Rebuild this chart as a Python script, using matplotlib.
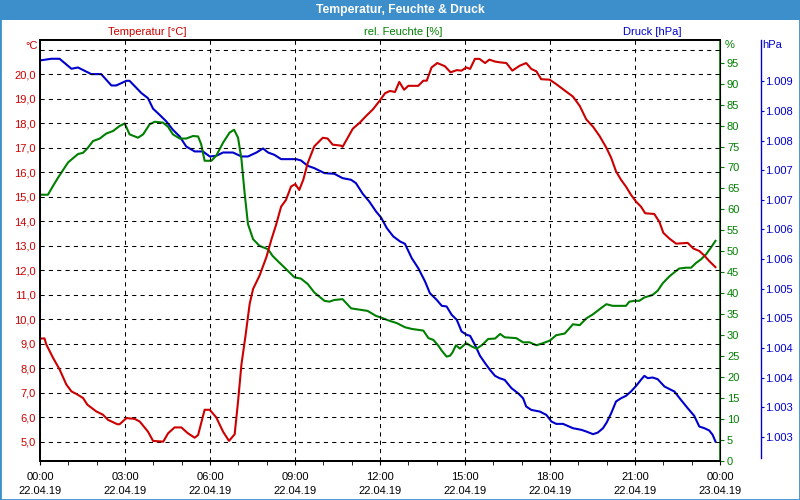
import matplotlib.pyplot as plt
from matplotlib.patches import Rectangle

plt.rcParams['font.family'] = ['Liberation Sans', 'DejaVu Sans']
plt.rcParams['font.size'] = 8

RED = '#cc0000'
GREEN = '#008000'
BLUE = '#0000cc'
BAR = '#3d8fcc'

# Temperatur [°C], Zeit in Stunden ab 22.04.19 00:00
temp_h = [0.0, 0.16, 0.22, 0.46, 0.69, 0.93, 1.11, 1.28, 1.52, 1.67, 1.99, 2.22, 2.40, 2.73, 2.81,
          3.05, 3.34, 3.52, 3.81, 3.99, 4.35, 4.52, 4.75, 4.99, 5.22, 5.46, 5.58, 5.81, 5.99, 6.22,
          6.46, 6.67, 6.87, 6.99, 7.11, 7.26, 7.40, 7.52, 7.75, 7.99, 8.16, 8.33, 8.51, 8.68, 8.86,
          9.01, 9.15, 9.29, 9.45, 9.68, 9.98, 10.15, 10.33, 10.62, 10.68, 10.86, 11.04, 11.28, 11.51,
          11.75, 11.98, 12.18, 12.35, 12.53, 12.68, 12.85, 13.0, 13.35, 13.53, 13.65, 13.82, 14.02,
          14.29, 14.49, 14.71, 14.88, 15.04, 15.18, 15.35, 15.51, 15.71, 15.86, 16.06, 16.22, 16.46,
          16.67, 16.93, 17.16, 17.34, 17.52, 17.69, 17.99, 18.22, 18.46, 18.81, 19.05, 19.28, 19.52,
          19.75, 19.99, 20.16, 20.33, 20.51, 20.68, 20.86, 21.04, 21.21, 21.36, 21.68, 21.86, 22.0,
          22.21, 22.45, 22.86, 23.06, 23.27, 23.44, 23.62, 23.84]
temp_c = [9.21, 9.21, 8.97, 8.42, 7.95, 7.33, 7.05, 6.95, 6.78, 6.51, 6.23, 6.10, 5.89, 5.71, 5.71,
          5.96, 5.93, 5.82, 5.41, 5.03, 5.0, 5.34, 5.58, 5.58, 5.34, 5.16, 5.27, 6.30, 6.30, 5.99,
          5.41, 5.03, 5.30, 6.64, 8.15, 9.38, 10.62, 11.23, 11.78, 12.53, 13.22, 13.84, 14.59, 14.86,
          15.41, 15.51, 15.27, 15.68, 16.37, 17.05, 17.40, 17.37, 17.12, 17.08, 17.03, 17.40, 17.77,
          18.01, 18.29, 18.56, 18.90, 19.22, 19.31, 19.27, 19.68, 19.36, 19.52, 19.52, 19.73, 19.73,
          20.27, 20.45, 20.32, 20.07, 20.16, 20.14, 20.27, 20.21, 20.62, 20.62, 20.45, 20.59, 20.51,
          20.48, 20.45, 20.14, 20.34, 20.45, 20.21, 20.11, 19.79, 19.77, 19.59, 19.38, 19.08, 18.70,
          18.15, 17.85, 17.47, 16.99, 16.58, 16.03, 15.68, 15.41, 15.07, 14.79, 14.59, 14.32, 14.29,
          13.97, 13.52, 13.29, 13.08, 13.11, 12.88, 12.78, 12.60, 12.37, 12.12]

# rel. Feuchte [%]
hum_h = [0.0, 0.28, 0.46, 0.64, 0.99, 1.34, 1.52, 1.69, 1.87, 2.11, 2.34, 2.58, 2.81, 2.99, 3.16,
         3.46, 3.64, 3.87, 4.05, 4.34, 4.52, 4.69, 4.93, 5.16, 5.40, 5.58, 5.69, 5.81, 6.05, 6.22,
         6.46, 6.69, 6.85, 6.99, 7.11, 7.22, 7.34, 7.52, 7.75, 8.05, 8.21, 8.45, 8.68, 8.98, 9.21,
         9.45, 9.68, 10.04, 10.21, 10.39, 10.68, 10.98, 11.27, 11.56, 11.86, 12.04, 12.35, 12.59,
         12.88, 13.12, 13.53, 13.71, 13.88, 14.06, 14.18, 14.35, 14.47, 14.56, 14.68, 14.82, 15.04,
         15.24, 15.41, 15.59, 15.82, 16.06, 16.24, 16.40, 16.81, 17.05, 17.28, 17.52, 17.75, 17.99,
         18.22, 18.52, 18.81, 19.05, 19.28, 19.52, 19.75, 19.99, 20.21, 20.68, 20.80, 20.98, 21.15,
         21.33, 21.62, 21.80, 21.98, 22.21, 22.39, 22.56, 22.80, 22.98, 23.15, 23.33, 23.51, 23.68,
         23.84]
hum_pct = [63.5, 63.5, 65.6, 67.6, 71.2, 73.2, 73.5, 74.7, 76.3, 76.9, 78.1, 78.7, 79.9, 80.5, 77.9,
           77.1, 77.9, 80.3, 80.9, 80.7, 79.7, 77.9, 76.9, 76.9, 77.5, 77.4, 75.5, 71.6, 71.6, 72.8,
           75.9, 78.3, 79.0, 77.1, 72.0, 64.0, 56.5, 52.9, 51.3, 50.5, 48.9, 47.3, 45.8, 43.8, 43.5,
           42.2, 40.2, 38.2, 38.0, 38.4, 38.6, 36.4, 36.1, 35.8, 34.6, 34.2, 33.4, 32.9, 31.9, 31.5,
           31.1, 29.3, 28.9, 27.5, 26.3, 24.9, 25.1, 25.9, 27.6, 26.8, 28.1, 27.3, 26.8, 27.6, 29.1,
           29.2, 30.3, 29.5, 29.3, 28.3, 28.3, 27.6, 28.1, 28.7, 30.0, 30.4, 32.6, 32.4, 34.0, 35.0,
           36.2, 37.4, 37.0, 37.0, 38.0, 38.2, 38.2, 39.0, 39.6, 40.6, 42.4, 44.0, 45.0, 45.9, 46.1,
           46.1, 47.2, 48.1, 49.3, 50.9, 52.5]

# Druck [hPa]
press_h = [0.0, 0.40, 0.69, 1.11, 1.34, 1.81, 2.16, 2.52, 2.69, 3.05, 3.16, 3.58, 3.81, 3.99, 4.22,
           4.46, 4.69, 4.93, 5.16, 5.46, 5.75, 5.99, 6.22, 6.46, 6.81, 7.11, 7.34, 7.64, 7.87, 8.05,
           8.27, 8.51, 9.04, 9.21, 9.45, 9.68, 10.04, 10.39, 10.68, 10.98, 11.15, 11.39, 11.62, 11.86,
           12.04, 12.24, 12.47, 12.71, 12.88, 13.12, 13.35, 13.59, 13.76, 14.0, 14.18, 14.35, 14.53,
           14.71, 14.88, 15.06, 15.18, 15.35, 15.53, 15.71, 15.88, 16.06, 16.22, 16.40, 16.64, 16.87,
           17.05, 17.16, 17.34, 17.64, 17.87, 18.05, 18.22, 18.46, 18.81, 19.11, 19.28, 19.52, 19.69,
           19.87, 20.0, 20.16, 20.33, 20.51, 20.68, 20.86, 21.04, 21.21, 21.33, 21.45, 21.62, 21.80,
           22.04, 22.27, 22.39, 22.62, 22.86, 23.09, 23.27, 23.45, 23.62, 23.74, 23.84]
press_hpa = [1008.855, 1008.883, 1008.883, 1008.714, 1008.736, 1008.624, 1008.624, 1008.432, 1008.432,
             1008.511, 1008.511, 1008.303, 1008.218, 1008.04, 1007.937, 1007.824, 1007.684, 1007.571,
             1007.402, 1007.318, 1007.318, 1007.233, 1007.244, 1007.30, 1007.30, 1007.233, 1007.233,
             1007.30, 1007.368, 1007.30, 1007.261, 1007.188, 1007.188, 1007.166, 1007.075, 1007.036,
             1006.952, 1006.94, 1006.867, 1006.839, 1006.783, 1006.603, 1006.473, 1006.304, 1006.20,
             1006.023, 1005.882, 1005.797, 1005.758, 1005.516, 1005.347, 1005.122, 1004.925, 1004.812,
             1004.711, 1004.70, 1004.559, 1004.474, 1004.277, 1004.221, 1004.204, 1004.052, 1003.866,
             1003.742, 1003.63, 1003.528, 1003.488, 1003.46, 1003.32, 1003.235, 1003.15, 1003.01,
             1002.953, 1002.925, 1002.869, 1002.757, 1002.717, 1002.717, 1002.644, 1002.616, 1002.588,
             1002.543, 1002.571, 1002.644, 1002.74, 1002.897, 1003.095, 1003.151, 1003.19, 1003.264,
             1003.359, 1003.461, 1003.528, 1003.489, 1003.50, 1003.472, 1003.348, 1003.292, 1003.264,
             1003.123, 1002.982, 1002.853, 1002.672, 1002.644, 1002.605, 1002.532, 1002.419]

x_ticks = [0, 3, 6, 9, 12, 15, 18, 21, 24]
x_labels = ['00:00\n22.04.19', '03:00\n22.04.19', '06:00\n22.04.19', '09:00\n22.04.19',
            '12:00\n22.04.19', '15:00\n22.04.19', '18:00\n22.04.19', '21:00\n22.04.19',
            '00:00\n23.04.19']
temp_ticks = list(range(5, 22))
temp_labels = ['5,0', '6,0', '7,0', '8,0', '9,0', '10,0', '11,0', '12,0', '13,0', '14,0', '15,0',
               '16,0', '17,0', '18,0', '19,0', '20,0', '']
hum_ticks = list(range(0, 100, 5))
press_ticks = [1002.5, 1003.0, 1003.5, 1004.0, 1004.5, 1005.0, 1005.5, 1006.0, 1006.5, 1007.0,
               1007.5, 1008.0, 1008.5]
press_labels = ['1.003', '1.003', '1.004', '1.004', '1.005', '1.005', '1.006', '1.006', '1.007',
                '1.007', '1.008', '1.008', '1.009']

fig = plt.figure(figsize=(8, 5), dpi=100)
fig.patch.set_facecolor('white')

# Titelleiste und Rahmen
fig.add_artist(Rectangle((0, 0.96), 1, 0.04, transform=fig.transFigure, facecolor=BAR,
                         edgecolor='none'))
fig.add_artist(Rectangle((0, 0), 1, 1, transform=fig.transFigure, fill=False, edgecolor=BAR,
                         linewidth=2))
fig.text(0.5, 0.979, 'Temperatur, Feuchte & Druck', color='white', fontweight='bold',
         ha='center', va='center', fontsize=8.7)

ax = fig.add_axes([0.05, 0.078, 0.85, 0.842])
ax_h = ax.twinx()
ax_p = ax.twinx()

ax_p.plot(press_h, press_hpa, color=BLUE, lw=1.5)
ax_h.plot(hum_h, hum_pct, color=GREEN, lw=1.5)
ax.plot(temp_h, temp_c, color=RED, lw=1.5)
ax.set_zorder(3)
ax.patch.set_visible(False)
ax_h.set_zorder(2)
ax_p.set_zorder(1)

ax.set_xlim(0, 24)
ax.set_ylim(4.21, 21.39)
ax_h.set_ylim(0, 100.4)
ax_p.set_ylim(1002.09, 1009.2)

ax.set_xticks(x_ticks)
ax.set_xticklabels(x_labels, linespacing=1.45)
ax.set_xticks(range(25), minor=True)
ax.tick_params(axis='x', which='both', length=3, pad=5, color='black')
ax.set_yticks(temp_ticks)
ax.set_yticklabels(temp_labels)
ax.tick_params(axis='y', length=0, pad=3, labelcolor=RED)
ax.grid(True, color='black', linestyle=(0, (4, 4)), linewidth=0.75)

ax_h.set_yticks(hum_ticks)
ax_h.tick_params(axis='y', length=3, pad=2, color=GREEN, labelcolor=GREEN)
ax_h.spines['right'].set_color(GREEN)
ax_h.spines['right'].set_linewidth(1.2)

ax_p.spines['right'].set_position(('axes', 1.06))
ax_p.spines['right'].set_color(BLUE)
ax_p.spines['right'].set_bounds(1002.14, 1009.2)
ax_p.set_yticks(press_ticks)
ax_p.set_yticklabels(press_labels)
ax_p.tick_params(axis='y', length=2, pad=1, color=BLUE, labelcolor=BLUE)

for a in (ax, ax_h, ax_p):
    for s in ('top', 'left', 'bottom'):
        a.spines[s].set_linewidth(1.2)
ax_p.spines['right'].set_linewidth(1.0)

# Achsenbeschriftungen
fig.text(0.184, 0.936, 'Temperatur [°C]', color=RED, ha='center', va='center')
fig.text(0.504, 0.936, 'rel. Feuchte [%]', color=GREEN, ha='center', va='center')
fig.text(0.815, 0.936, 'Druck [hPa]', color=BLUE, ha='center', va='center')
fig.text(0.047, 0.908, '°C', color=RED, ha='right', va='center')
fig.text(0.906, 0.91, '%', color=GREEN, ha='left', va='center')
fig.text(0.953, 0.91, 'hPa', color=BLUE, ha='left', va='center')

fig.savefig('out.png', dpi=100)
